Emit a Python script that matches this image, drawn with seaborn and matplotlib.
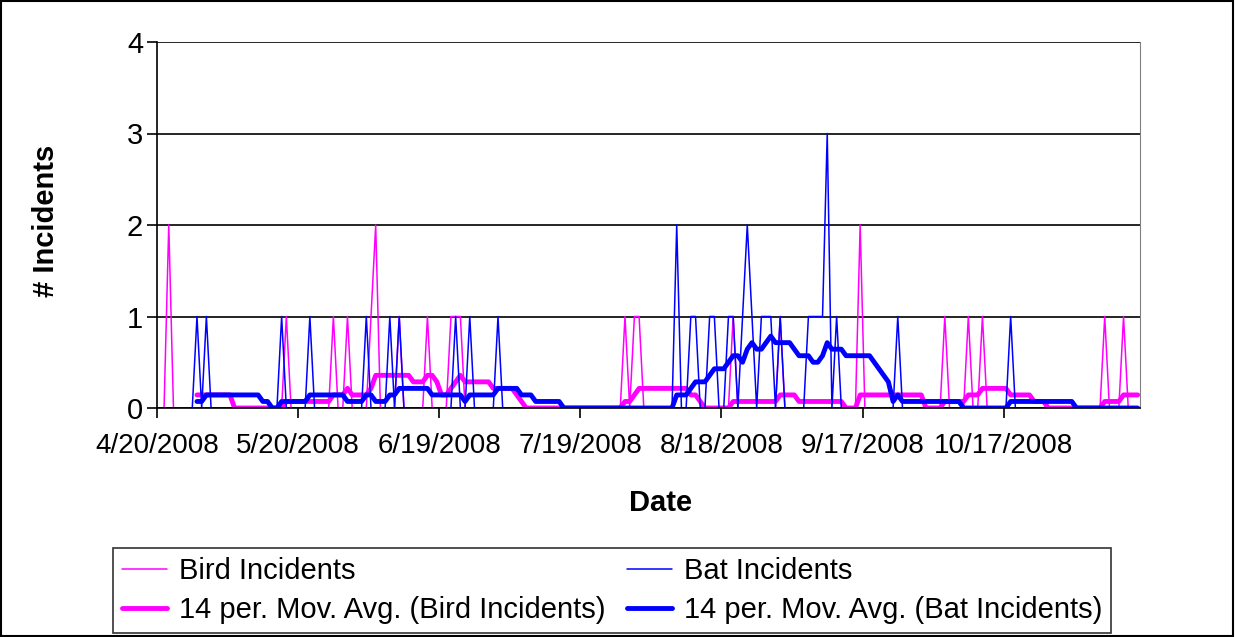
import pandas as pd
import numpy as np
import matplotlib
matplotlib.use('Agg')
import matplotlib.pyplot as plt
from matplotlib.patches import Rectangle
import seaborn as sns

# daily incident counts, only the days that had incidents (all other days are 0)
bird_dates = ['2008-04-22', '2008-05-17', '2008-05-27', '2008-05-30', '2008-06-04',
              '2008-06-05', '2008-06-10', '2008-06-16', '2008-06-21', '2008-06-22',
              '2008-06-23', '2008-07-28', '2008-07-30', '2008-07-31', '2008-08-20',
              '2008-08-30', '2008-09-16', '2008-10-04', '2008-10-09', '2008-10-12',
              '2008-11-07', '2008-11-11']
bird_counts = [2, 1, 1, 1, 1,
               2, 1, 1, 1, 1,
               1, 1, 1, 1, 1,
               1, 2, 1, 1, 1,
               1, 1]

bat_dates = ['2008-04-28', '2008-04-30', '2008-05-16', '2008-05-22', '2008-06-03',
             '2008-06-08', '2008-06-10', '2008-06-22', '2008-06-25', '2008-07-01',
             '2008-08-08', '2008-08-11', '2008-08-12', '2008-08-15', '2008-08-16',
             '2008-08-19', '2008-08-20', '2008-08-22', '2008-08-23', '2008-08-24',
             '2008-08-26', '2008-08-27', '2008-08-28', '2008-08-30', '2008-09-05',
             '2008-09-06', '2008-09-07', '2008-09-08', '2008-09-09', '2008-09-11',
             '2008-09-24', '2008-10-18']
bat_counts = [1, 1, 1, 1, 1,
              1, 1, 1, 1, 1,
              2, 1, 1, 1, 1,
              1, 1, 1, 2, 1,
              1, 1, 1, 1, 1,
              1, 1, 1, 3, 1,
              1, 1]

first_day = '2008-04-15'
last_day = '2008-11-14'
tick_dates = ['2008-04-20', '2008-05-20', '2008-06-19', '2008-07-19',
              '2008-08-18', '2008-09-17', '2008-10-17']
tick_labels = ['4/20/2008', '5/20/2008', '6/19/2008', '7/19/2008',
               '8/18/2008', '9/17/2008', '10/17/2008']

days = pd.date_range(first_day, last_day, freq='D')
data = pd.DataFrame({'Date': days})
data['Bird Incidents'] = pd.Series(bird_counts, index=pd.to_datetime(bird_dates)).reindex(days, fill_value=0).values
data['Bat Incidents'] = pd.Series(bat_counts, index=pd.to_datetime(bat_dates)).reindex(days, fill_value=0).values
# Excel style 14 period moving average trendline
data['bird_ma'] = data['Bird Incidents'].rolling(14).mean()
data['bat_ma'] = data['Bat Incidents'].rolling(14).mean()
# points sit in the middle of each day (axis "between dates")
data['x'] = data['Date'] + pd.Timedelta(hours=12)

sns.set_style('white')
plt.rcParams['font.family'] = ['Liberation Sans', 'DejaVu Sans']
plt.rcParams['text.color'] = 'black'
plt.rcParams['axes.labelcolor'] = 'black'
plt.rcParams['xtick.color'] = 'black'
plt.rcParams['ytick.color'] = 'black'

fs = 21

fig = plt.figure(figsize=(12.35, 6.37), dpi=100)
ax = fig.add_axes([157/1235, 1-408/637, (1140-157)/1235, (408-42)/637])

pink = '#FF00FF'
blue = '#0000FF'
sns.lineplot(data=data, x='x', y='Bird Incidents', ax=ax, color=pink, lw=1.1, label='Bird Incidents')
sns.lineplot(data=data, x='x', y='bird_ma', ax=ax, color=pink, lw=3.5, label='14 per. Mov. Avg. (Bird Incidents)')
sns.lineplot(data=data, x='x', y='Bat Incidents', ax=ax, color=blue, lw=1.1, label='Bat Incidents')
sns.lineplot(data=data, x='x', y='bat_ma', ax=ax, color=blue, lw=3.5, label='14 per. Mov. Avg. (Bat Incidents)')

ax.set_xlim(pd.Timestamp('2008-04-20'), pd.Timestamp('2008-11-15'))
ax.set_ylim(0, 4)
ax.set_yticks([0, 1, 2, 3, 4])
ax.set_xticks(pd.to_datetime(tick_dates))
ax.set_xticklabels(tick_labels)
ax.yaxis.grid(True, color='black', lw=1.2)
ax.set_axisbelow(True)
ax.spines['top'].set_visible(False)
ax.spines['right'].set_color('#808080')
ax.spines['left'].set_color('black')
ax.spines['bottom'].set_color('black')
ax.spines['left'].set_linewidth(1.2)
ax.spines['bottom'].set_linewidth(1.2)
ax.tick_params(axis='both', which='major', direction='out', length=7, width=1.2, color='black',
               labelsize=20, left=True, bottom=True)
ax.tick_params(axis='x', pad=11)
ax.tick_params(axis='y', pad=3, labelsize=21)

ax.set_xlabel('Date', fontsize=fs, fontweight='bold')
ax.set_ylabel('# Incidents', fontsize=fs, fontweight='bold')
ax.xaxis.set_label_coords((661-157)/983, (408-489)/366)
ax.yaxis.set_label_coords((60-157)/983, 0.51)

handles, labels = ax.get_legend_handles_labels()
leg = fig.legend(handles, labels, ncol=2, loc='upper left',
                 bbox_to_anchor=(113/1235, 1-548/637),
                 fontsize=fs, frameon=True, fancybox=False,
                 edgecolor='black', handlelength=1.55, handletextpad=0.4,
                 columnspacing=0.75, borderaxespad=0, labelspacing=0.4, borderpad=0.3)
leg.get_frame().set_linewidth(1.2)
ax.get_legend().remove()

fig.patches.append(Rectangle((0.001, 0.002), 0.997, 0.996, transform=fig.transFigure,
                             fill=False, edgecolor='black', lw=1.5))

plt.savefig('out.png', dpi=100)
